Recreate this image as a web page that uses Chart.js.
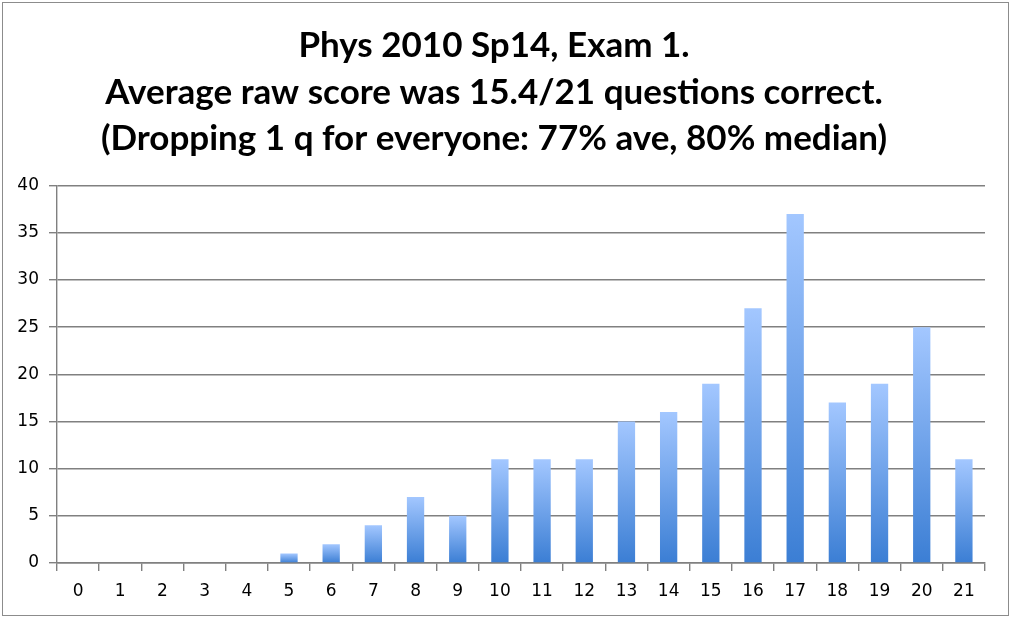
<!DOCTYPE html>
<html>
<head>
<meta charset="utf-8">
<script src="https://cdn.jsdelivr.net/npm/chart.js"></script>
<style>
  body { margin: 0; background: #fff; }
  #box { position: absolute; left: 2px; top: 2px; width: 1005px; height: 612px; border: 1px solid #8c8c8c; }
</style>
</head>
<body>
<div id="box"><canvas id="examChart"></canvas></div>
<script>
// raw score (questions correct) and number of students
const scores = ['0','1','2','3','4','5','6','7','8','9','10','11','12','13','14','15','16','17','18','19','20','21'];
const students = [0, 0, 0, 0, 0, 1, 2, 4, 7, 5, 11, 11, 11, 15, 16, 19, 27, 37, 17, 19, 25, 11];
const titleLines = [
  'Phys 2010 Sp14, Exam 1.',
  'Average raw score was 15.4/21 questions correct.',
  '(Dropping 1 q for everyone: 77% ave, 80% median)'
];

// each bar gets its own light-to-dark gradient
function barFill(ctx) {
  const chart = ctx.chart;
  if (!chart.chartArea) return '#6a9ee6';
  const y = chart.scales.y;
  const top = y.getPixelForValue(ctx.raw);
  const bottom = y.getPixelForValue(0);
  if (bottom - top < 1) return '#3b7ed4';
  const g = chart.ctx.createLinearGradient(0, top, 0, bottom);
  g.addColorStop(0, '#a3c7ff');
  g.addColorStop(1, '#3b7ed4');
  return g;
}

const ctx = document.getElementById('examChart');
const chart = new Chart(ctx, {
  type: 'bar',
  data: {
    labels: scores,
    datasets: [{
      data: students,
      backgroundColor: barFill,
      categoryPercentage: 1,
      barPercentage: 0.41
    }]
  },
  options: {
    responsive: true,
    maintainAspectRatio: false,
    animation: false,
    layout: { padding: { left: 0, right: 23, top: 0, bottom: 0 } },
    plugins: {
      legend: { display: false },
      tooltip: { enabled: false },
      title: {
        display: true,
        text: titleLines,
        color: '#000',
        font: { family: 'Lato', size: 35, weight: 'bold', lineHeight: 1.32 },
        padding: { top: 20, bottom: 24 }
      }
    },
    scales: {
      x: {
        grid: { offset: true, drawOnChartArea: false, color: '#808080', lineWidth: 1.4, tickLength: 8 },
        border: { color: '#808080', width: 1.4 },
        ticks: { color: '#000', font: { family: 'DejaVu Sans', size: 17 }, padding: 10, maxRotation: 0 },
        afterFit: s => { s.height = 52; }
      },
      y: {
        min: 0,
        max: 40,
        ticks: { stepSize: 5, color: '#000', font: { family: 'DejaVu Sans', size: 17 }, padding: 10 },
        grid: { color: '#808080', lineWidth: 1.4, tickLength: 8 },
        border: { color: '#808080', width: 1.4 },
        afterFit: s => { s.width = 54; }
      }
    }
  }
});
</script>
</body>
</html>
